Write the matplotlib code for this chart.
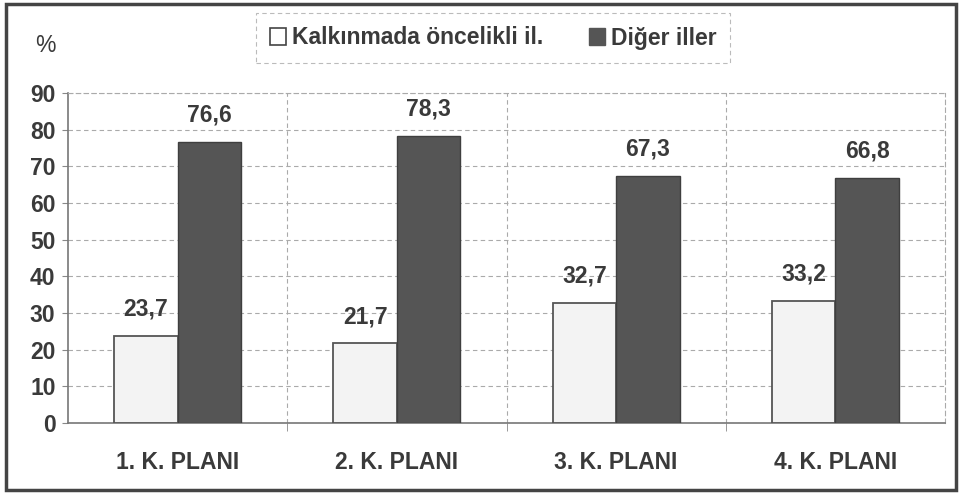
import matplotlib.pyplot as plt
from matplotlib.patches import Rectangle, Patch
import numpy as np

plt.rcParams['font.family'] = ['Liberation Sans', 'DejaVu Sans']
plt.rcParams['font.weight'] = 'bold'

categories = ['1. K. PLANI', '2. K. PLANI', '3. K. PLANI', '4. K. PLANI']
oncelikli = [23.7, 21.7, 32.7, 33.2]
diger = [76.6, 78.3, 67.3, 66.8]
series_names = ['Kalkınmada öncelikli il.', 'Diğer iller']

TXT = '#3a3a3a'
LIGHT = '#f3f3f3'
DARK = '#555555'
FS = 16.5

fig = plt.figure(figsize=(9.63, 4.96), dpi=100)
fig.patch.set_facecolor('white')
ax = fig.add_axes([68/963, 1-423/496, (945-68)/963, (423-93)/496])

x = np.arange(len(categories))
w = 0.29
b1 = ax.bar(x - w/2, oncelikli, w, color=LIGHT, edgecolor='#555555', linewidth=1.3, zorder=3)
b2 = ax.bar(x + w/2, diger, w, color=DARK, edgecolor='#3f3f3f', linewidth=1.0, zorder=3)

for rect, v in zip(list(b1) + list(b2), oncelikli + diger):
    ax.annotate(f'{v:.1f}'.replace('.', ','),
                (rect.get_x() + rect.get_width()/2, rect.get_height()),
                xytext=(0, 11), textcoords='offset points',
                ha='center', va='bottom', fontsize=FS, color=TXT)

ax.set_xlim(-0.5, len(categories) - 0.5)
ax.set_ylim(0, 90)
ax.set_yticks(np.arange(0, 91, 10))
ax.set_xticks(x)
ax.set_xticklabels(categories)
ax.set_xticks(x[:-1] + 0.5, minor=True)
ax.tick_params(axis='x', which='major', length=0, pad=20, labelsize=FS, labelcolor=TXT)
ax.tick_params(axis='x', which='minor', length=6, color='#888888', direction='out')
ax.tick_params(axis='y', length=4, color='#888888', pad=5, labelsize=FS, labelcolor=TXT)

ax.yaxis.grid(True, linestyle=(0, (4, 3)), color='#aaaaaa', linewidth=0.8, zorder=0)
for b in x[:-1] + 0.5:
    ax.axvline(b, linestyle=(0, (4, 3)), color='#aaaaaa', linewidth=0.8, zorder=0)

for s in ['left', 'bottom']:
    ax.spines[s].set_color('#777777')
    ax.spines[s].set_linewidth(1.2)
for s in ['top', 'right']:
    ax.spines[s].set_color('#aaaaaa')
    ax.spines[s].set_linestyle((0, (4, 3)))
    ax.spines[s].set_linewidth(0.8)

fig.text(45/963, 1-45/496, '%', ha='center', va='center', fontsize=FS, color=TXT,
         fontweight='normal')

handles = [Patch(facecolor='white', edgecolor='#444444', linewidth=1.2),
           Patch(facecolor=DARK, edgecolor=DARK)]
leg = fig.legend(handles, series_names, loc='center',
                 bbox_to_anchor=(493/963, 1-38/496), ncol=2, fontsize=FS,
                 handlelength=0.7, handleheight=0.7, handletextpad=0.25,
                 columnspacing=2.0, borderpad=0.6, borderaxespad=0, fancybox=False,
                 labelcolor=TXT)
leg.get_frame().set_linestyle((0, (4, 3)))
leg.get_frame().set_edgecolor('#aaaaaa')
leg.get_frame().set_linewidth(0.8)

fig.patches.append(Rectangle((6/963, 1-490/496), 950/963, 486/496,
                             transform=fig.transFigure, fill=False,
                             edgecolor='#444444', linewidth=2.5))

fig.savefig('out.png', dpi=100)
